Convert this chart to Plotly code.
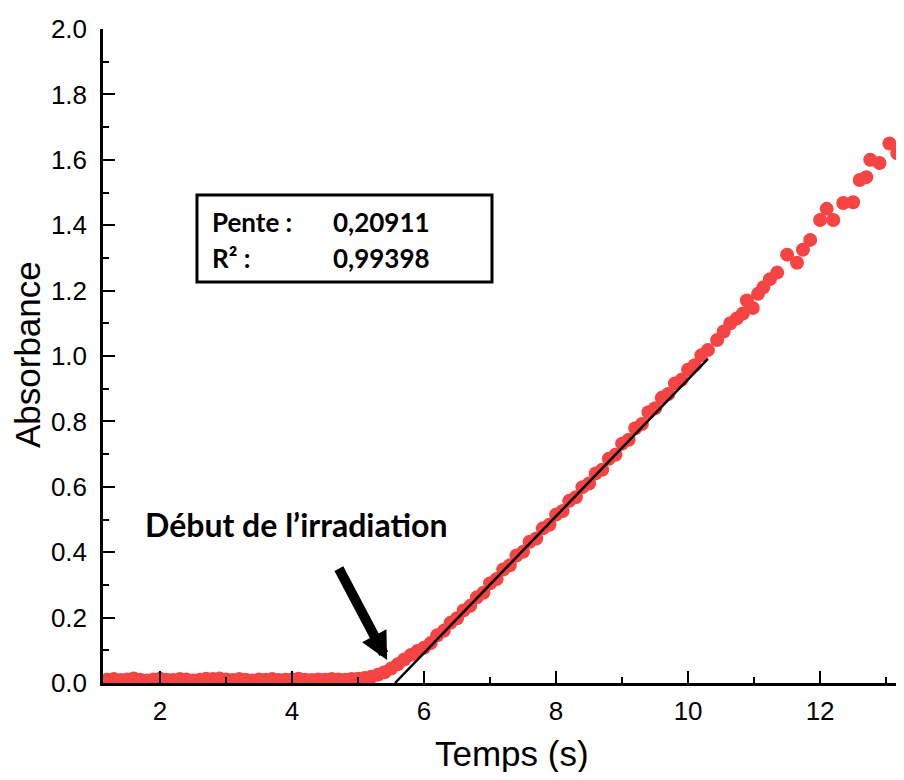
import plotly.graph_objects as go

# ---- data ----
time_s = [
    1.2, 1.3, 1.4, 1.5, 1.6, 1.7, 1.8, 1.9, 2.0, 2.1, 2.2, 2.3, 2.4, 2.5, 2.6, 2.7, 2.8, 2.9, 3.0,
    3.1, 3.2, 3.3, 3.4, 3.5, 3.6, 3.7, 3.8, 3.9, 4.0, 4.1, 4.2, 4.3, 4.4, 4.5, 4.6, 4.7, 4.8, 4.9,
    5.0, 5.1, 5.2, 5.3, 5.4, 5.5, 5.6, 5.7, 5.8, 5.9, 6.0, 6.1, 6.2, 6.3, 6.4, 6.5, 6.6, 6.7, 6.8,
    6.9, 7.0, 7.1, 7.2, 7.3, 7.4, 7.5, 7.6, 7.7, 7.8, 7.9, 8.0, 8.1, 8.2, 8.3, 8.4, 8.5, 8.6, 8.7,
    8.8, 8.9, 9.0, 9.1, 9.2, 9.3, 9.4, 9.5, 9.6, 9.7, 9.8, 9.9, 10.0, 10.1, 10.2, 10.3,
    10.44, 10.54, 10.64, 10.74, 10.83, 10.89, 10.98, 11.06, 11.14, 11.24, 11.35, 11.5, 11.65,
    11.74, 11.85, 12.0, 12.1, 12.2, 12.35, 12.5, 12.6, 12.7, 12.76, 12.9, 13.05, 13.17,
]
absorbance = [
    0.010, 0.012, 0.009, 0.011, 0.014, 0.010, 0.008, 0.011, 0.013, 0.010, 0.009, 0.012, 0.011, 0.008,
    0.010, 0.013, 0.012, 0.014, 0.011, 0.009, 0.012, 0.010, 0.008, 0.011, 0.010, 0.012, 0.009, 0.010,
    0.011, 0.013, 0.010, 0.009, 0.011, 0.010, 0.012, 0.011, 0.010, 0.012,
    0.013, 0.015, 0.019, 0.025, 0.033, 0.044, 0.057, 0.072, 0.086, 0.098, 0.108, 0.122, 0.146, 0.160,
    0.184, 0.198, 0.222, 0.236, 0.262, 0.276, 0.305, 0.318, 0.347, 0.360, 0.390, 0.401, 0.432, 0.442,
    0.473, 0.484, 0.515, 0.526, 0.557, 0.568, 0.599, 0.610, 0.641, 0.652, 0.686, 0.698, 0.732, 0.744,
    0.779, 0.792, 0.828, 0.840, 0.872, 0.884, 0.916, 0.927, 0.958, 0.972, 1.002, 1.018,
    1.049, 1.075, 1.100, 1.115, 1.130, 1.170, 1.147, 1.190, 1.210, 1.235, 1.255, 1.310, 1.285,
    1.325, 1.355, 1.416, 1.450, 1.416, 1.468, 1.470, 1.538, 1.547, 1.600, 1.590, 1.650, 1.620,
]

# linear fit drawn in the reference (Pente 0,20911)
fit_time = [5.56, 10.30]
fit_abs = [0.0, 0.991]

x_ticks = [2, 4, 6, 8, 10, 12]
y_ticks = [0.0, 0.2, 0.4, 0.6, 0.8, 1.0, 1.2, 1.4, 1.6, 1.8, 2.0]

RED = "#F54444"

fig = go.Figure()
fig.add_trace(go.Scatter(
    x=time_s, y=absorbance, mode="markers",
    marker=dict(color=RED, size=14, line=dict(width=0)),
    showlegend=False, hoverinfo="x+y",
))
fig.add_trace(go.Scatter(
    x=fit_time, y=fit_abs, mode="lines",
    line=dict(color="black", width=2.5),
    showlegend=False,
))

axis_font = dict(family="Liberation Sans, Arial, sans-serif", size=26, color="black")
title_font = dict(family="Liberation Sans, Arial, sans-serif", size=35, color="black")

fig.update_layout(
    width=888, height=764,
    margin=dict(l=95, r=0, t=21, b=89),
    paper_bgcolor="white", plot_bgcolor="white",
    xaxis=dict(
        range=[1.136, 13.15], tickvals=x_ticks, ticktext=[str(v) for v in x_ticks],
        ticks="inside", ticklen=12, tickwidth=2, tickcolor="black",
        showline=True, linecolor="black", linewidth=2.5, showgrid=False, zeroline=False,
        tickfont=axis_font, ticklabelstandoff=3, automargin=False,
        minor=dict(dtick=1, ticks="inside", ticklen=6, tickwidth=2, tickcolor="black", showgrid=False),
    ),
    yaxis=dict(
        range=[0, 2.0], tickvals=y_ticks, ticktext=[f"{v:.1f}" for v in y_ticks],
        ticks="inside", ticklen=12, tickwidth=2, tickcolor="black",
        showline=True, linecolor="black", linewidth=2.5, showgrid=False, zeroline=False,
        tickfont=axis_font, ticklabelstandoff=8, automargin=False,
        minor=dict(dtick=0.1, ticks="inside", ticklen=6, tickwidth=2, tickcolor="black", showgrid=False),
    ),
)

# axis titles placed as annotations
fig.add_annotation(text="Temps (s)", xref="paper", yref="paper", x=0.516, y=-0.108,
                   xanchor="center", yanchor="middle", showarrow=False, font=title_font)
fig.add_annotation(text="Absorbance", xref="paper", yref="paper", x=-0.0958, y=0.5015,
                   xanchor="center", yanchor="middle", showarrow=False, font=title_font,
                   textangle=-90)

# boxed fit results (paper coords of the plot area)
fig.add_shape(type="rect", xref="paper", yref="paper",
              x0=0.1185, x1=0.4905, y0=0.6131, y1=0.7462,
              line=dict(color="black", width=3), fillcolor="white", layer="above")

box_font = dict(family="Lato, sans-serif", size=26, color="black", weight="bold")
for txt, xp, yp in [("Pente :", 0.135, 0.705), ("0,20911", 0.288, 0.705),
                    ("R² :", 0.135, 0.650), ("0,99398", 0.288, 0.650)]:
    fig.add_annotation(text=txt, xref="paper", yref="paper", x=xp, y=yp,
                       xanchor="left", yanchor="middle", showarrow=False, font=box_font)

# label + arrow
fig.add_annotation(text="Début de l’irradiation", xref="paper", yref="paper",
                   x=0.2436, y=0.2416, xanchor="center", yanchor="middle", showarrow=False,
                   font=dict(family="Lato, sans-serif", size=32, color="black", weight="bold"))
fig.add_annotation(text="", x=5.44, y=0.07, xref="x", yref="y",
                   ax=-49, ay=-93, axref="pixel", ayref="pixel",
                   showarrow=True, arrowhead=2, arrowsize=0.55, arrowwidth=10,
                   arrowcolor="black", standoff=0)

fig.write_html("out.html")
